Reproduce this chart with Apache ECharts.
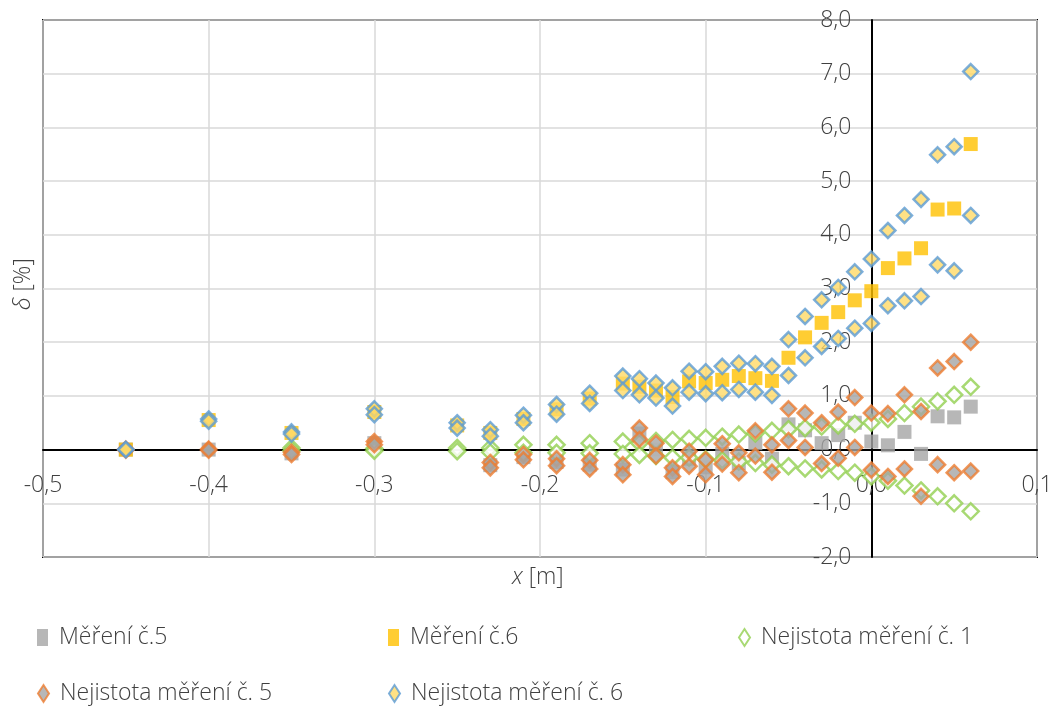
<!DOCTYPE html>
<html>
<head>
<meta charset="utf-8">
<script src="https://cdn.jsdelivr.net/npm/echarts@6/dist/echarts.min.js"></script>
<style>
html,body{margin:0;padding:0;background:#fff;}
#chart{width:1061px;height:711px;}
</style>
</head>
<body>
<div id="chart"></div>
<script>
const xVals = [-0.45,-0.40,-0.35,-0.30,-0.25,-0.23,-0.21,-0.19,-0.17,-0.15,-0.14,-0.13,-0.12,-0.11,-0.10,-0.09,-0.08,-0.07,-0.06,-0.05,-0.04,-0.03,-0.02,-0.01,0.00,0.01,0.02,0.03,0.04,0.05,0.06];

const mereni5 = [0,0,-0.07,0.12,null,-0.29,-0.14,-0.23,-0.28,-0.37,0.30,0.00,-0.42,-0.17,-0.33,-0.08,-0.25,0.12,-0.17,0.47,0.36,0.12,0.27,0.50,0.15,0.08,0.33,-0.08,0.62,0.60,0.80];
const mereni6 = [0,0.55,0.31,0.70,0.45,0.31,0.57,0.75,0.95,1.23,1.17,1.10,0.98,1.27,1.24,1.30,1.37,1.33,1.28,1.71,2.09,2.36,2.56,2.78,2.95,3.38,3.56,3.75,4.47,4.49,5.69];

const nej1Upper = [null,null,0.03,0.02,0.03,0.03,0.09,0.09,0.12,0.15,0.12,0.16,0.18,0.20,0.22,0.24,0.28,0.30,0.35,0.38,0.40,0.43,0.45,0.48,0.50,0.57,0.68,0.80,0.90,1.02,1.17];
const nej1Lower = [null,null,-0.02,-0.02,-0.03,-0.05,-0.06,-0.06,-0.07,-0.08,-0.10,-0.12,-0.15,-0.15,-0.18,-0.20,-0.22,-0.25,-0.28,-0.31,-0.35,-0.37,-0.40,-0.43,-0.50,-0.58,-0.67,-0.76,-0.87,-1.00,-1.15];

const nej5Upper = [0.01,0.01,-0.05,0.15,null,-0.24,-0.09,-0.17,-0.20,-0.28,0.40,0.12,-0.34,-0.03,-0.19,0.11,-0.06,0.35,0.09,0.76,0.68,0.50,0.70,0.97,0.68,0.67,1.02,0.71,1.52,1.64,2.00];
const nej5Lower = [-0.01,-0.01,-0.09,0.09,null,-0.34,-0.19,-0.30,-0.36,-0.47,0.19,-0.12,-0.50,-0.31,-0.47,-0.27,-0.43,-0.12,-0.42,0.17,0.04,-0.26,-0.16,0.04,-0.38,-0.50,-0.36,-0.87,-0.28,-0.43,-0.40];

const nej6Upper = [0,0.57,0.33,0.76,0.50,0.37,0.64,0.84,1.05,1.37,1.32,1.24,1.15,1.46,1.45,1.55,1.61,1.60,1.55,2.05,2.48,2.79,3.02,3.31,3.55,4.08,4.36,4.66,5.49,5.64,7.04];
const nej6Lower = [0,0.53,0.29,0.65,0.40,0.25,0.50,0.66,0.86,1.10,1.02,0.96,0.81,1.07,1.04,1.06,1.12,1.07,1.01,1.38,1.71,1.92,2.07,2.26,2.35,2.68,2.77,2.85,3.44,3.33,4.36];

const seriesNames = ['Měření č.5','Měření č.6','Nejistota měření č. 1','Nejistota měření č. 5','Nejistota měření č. 6'];
const xAxisTitle = 'x';
const xAxisUnit = ' [m]';
const yAxisTitle = 'δ';
const yAxisUnit = ' [%]';

const X_MIN = -0.5, X_MAX = 0.1, X_STEP = 0.1;
const Y_MIN = -2, Y_MAX = 8, Y_STEP = 1;

function pts(arr){
  const out = [];
  xVals.forEach((x,i)=>{ if(arr[i]!==null && arr[i]!==undefined) out.push([x, arr[i]]); });
  return out;
}

const FONT = "'Open Sans', 'Noto Sans', sans-serif";
const TXT = '#404040';
const fmt = v => v.toFixed(1).replace('.', ',');

const W = 1061, H = 711;
const G = {left:43, right:24, top:20, bottom:154};
const gridW = W - G.left - G.right, gridH = H - G.top - G.bottom;
// place axes at the zero of the other axis (axis offset from the grid edge)
const xAxisOffset = -gridH * (0 - Y_MIN) / (Y_MAX - Y_MIN);
const yAxisOffset = -gridW * (0 - X_MIN) / (X_MAX - X_MIN);

const chart = echarts.init(document.getElementById('chart'), null, {renderer:'canvas'});

const legendBase = {
  orient:'horizontal', padding:0, itemWidth:11, itemHeight:17, itemGap:0,
  textStyle:{fontFamily:FONT, fontSize:23, fontWeight:300, color:TXT, padding:[0,0,0,6]}
};

chart.setOption({
  animation:false,
  backgroundColor:'#fff',
  grid:{left:G.left, right:G.right, top:G.top, bottom:G.bottom, containLabel:false, outerBoundsMode:'none',
    show:true, borderColor:'#000', borderWidth:2, backgroundColor:'transparent'},
  xAxis:{
    type:'value', min:X_MIN, max:X_MAX, interval:X_STEP, position:'bottom', offset:xAxisOffset,
    axisLine:{show:true, onZero:false, lineStyle:{color:'#000', width:2}},
    axisTick:{show:false},
    axisLabel:{fontFamily:FONT, fontSize:23, fontWeight:300, color:TXT, margin:24, formatter:fmt},
    splitLine:{show:true, lineStyle:{color:'#d9d9d9', width:1.5}}
  },
  yAxis:{
    type:'value', min:Y_MIN, max:Y_MAX, interval:Y_STEP, position:'left', offset:yAxisOffset,
    axisLine:{show:true, onZero:false, lineStyle:{color:'#000', width:2}},
    axisTick:{show:false},
    axisLabel:{fontFamily:FONT, fontSize:23, fontWeight:300, color:TXT, margin:20, formatter:fmt},
    splitLine:{show:true, lineStyle:{color:'#d9d9d9', width:1.5}}
  },
  legend:[
    Object.assign({}, legendBase, {left:37, top:626, data:[{name:seriesNames[0], icon:'rect'}]}),
    Object.assign({}, legendBase, {left:388, top:626, data:[{name:seriesNames[1], icon:'rect'}]}),
    Object.assign({}, legendBase, {left:738, top:626, data:[{name:seriesNames[2], icon:'diamond'}]}),
    Object.assign({}, legendBase, {left:37, top:682, data:[{name:seriesNames[3], icon:'diamond'}]}),
    Object.assign({}, legendBase, {left:388, top:682, data:[{name:seriesNames[4], icon:'diamond'}]})
  ],
  graphic:[
    {type:'text', left:512, top:566, style:{text:'{i|'+xAxisTitle+'}'+xAxisUnit, font:'300 23px '+FONT, fill:TXT,
      rich:{i:{fontStyle:'italic', fontFamily:FONT, fontSize:23, fontWeight:300, fill:TXT}}}},
    {type:'text', x:12, y:310, rotation:Math.PI/2, style:{text:'{i|'+yAxisTitle+'}'+yAxisUnit, font:'300 23px '+FONT, fill:TXT,
      rich:{i:{fontStyle:'italic', fontFamily:FONT, fontSize:23, fontWeight:300, fill:TXT}}}}
  ],
  series:[
    {name:seriesNames[0], type:'scatter', symbol:'rect', symbolSize:14, z:2,
      itemStyle:{color:'#A5A5A5'}, data:pts(mereni5)},
    {name:seriesNames[1], type:'scatter', symbol:'rect', symbolSize:14, z:3,
      itemStyle:{color:'#FFC000'}, data:pts(mereni6)},
    {name:seriesNames[2], type:'scatter', symbol:'diamond', symbolSize:16, z:4,
      itemStyle:{color:'#ffffff', borderColor:'#92D050', borderWidth:2.5}, data:pts(nej1Upper).concat(pts(nej1Lower))},
    {name:seriesNames[3], type:'scatter', symbol:'diamond', symbolSize:15, z:5,
      itemStyle:{color:'#A5A5A5', borderColor:'#ED7D31', borderWidth:2.5}, data:pts(nej5Upper).concat(pts(nej5Lower))},
    {name:seriesNames[4], type:'scatter', symbol:'diamond', symbolSize:15, z:6,
      itemStyle:{color:'#FFD966', borderColor:'#5B9BD5', borderWidth:2.5}, data:pts(nej6Upper).concat(pts(nej6Lower))}
  ]
});
</script>
</body>
</html>
